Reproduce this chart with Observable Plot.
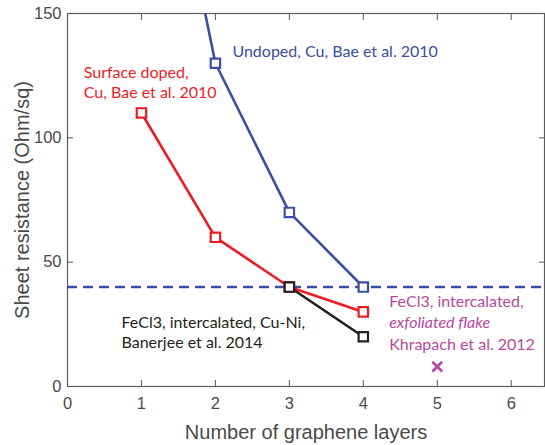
<!DOCTYPE html>
<html>
<head>
<meta charset="utf-8">
<script src="https://cdn.jsdelivr.net/npm/d3@7"></script>
<script src="https://cdn.jsdelivr.net/npm/@observablehq/plot@0.6"></script>
<style>
  html, body { margin: 0; padding: 0; background: #fff; }
  #chart svg { display: block; }
</style>
</head>
<body>
<div id="chart"></div>
<script>
// ---- data ----
const layers = [1, 2, 3, 4];
const undopedCu = [275, 130, 70, 40];
const surfaceDopedCu = [110, 60, 40, 30];
const fecl3Layers = [3, 4];
const fecl3CuNi = [40, 20];
const flakeLayers = [5];
const flakeResistance = [8];
const targetResistance = [40];
const xTicks = [0, 1, 2, 3, 4, 5, 6];
const yTicks = [0, 50, 100, 150];

const labelUndoped = "Undoped, Cu, Bae et al. 2010";
const labelSurface = ["Surface doped,", "Cu, Bae et al. 2010"];
const labelCuNi = ["FeCl3, intercalated, Cu-Ni,", "Banerjee et al. 2014"];
const labelFlake = ["FeCl3, intercalated,", "exfoliated flake", "Khrapach et al. 2012"];

const blue = "#3a4fa3", red = "#ed1c24", magenta = "#b5499d", black = "#231f20";
const annFont = "Lato";
const annSize = 16;

const undoped = layers.map((x, i) => ({x, y: undopedCu[i]}));
const surface = layers.map((x, i) => ({x, y: surfaceDopedCu[i]}));
const cuni = fecl3Layers.map((x, i) => ({x, y: fecl3CuNi[i]}));
const flake = flakeLayers.map((x, i) => ({x, y: flakeResistance[i]}));

function seriesMarks(data, color) {
  return [
    Plot.line(data, {x: "x", y: "y", stroke: color, strokeWidth: 2.6, clip: "frame"}),
    Plot.dot(data, {x: "x", y: "y", symbol: "square", r: 5.3, stroke: color, strokeWidth: 2.2, fill: "white", clip: "frame"})
  ];
}

const ann = (lines, x, y, color, extra = {}) =>
  Plot.text([lines.join("\n")], {x: () => x, y: () => y, text: d => d, textAnchor: "start", fill: color,
    fontFamily: annFont, fontSize: annSize, lineHeight: 1.25, ...extra});

const chart = Plot.plot({
  width: 545,
  height: 445,
  marginLeft: 67,
  marginRight: 1,
  marginTop: 13,
  marginBottom: 59,
  style: {fontFamily: "'Liberation Sans', Arial, sans-serif", fontSize: "16.5px", color: "#4a4a4a", background: "white"},
  x: {domain: [0, 6.45]},
  y: {domain: [0, 150]},
  marks: [
    Plot.frame({stroke: "#5a5a5a", strokeWidth: 1.2}),
    Plot.axisX(xTicks, {anchor: "bottom", tickSize: 0, tickPadding: 11, label: null, fill: "#4a4a4a"}),
    Plot.axisX(xTicks, {anchor: "bottom", tickSize: -6, text: null, label: null, stroke: "#5a5a5a"}),
    Plot.axisX(xTicks, {anchor: "top", tickSize: -6, text: null, label: null, stroke: "#5a5a5a"}),
    Plot.axisY(yTicks, {anchor: "left", tickSize: 0, tickPadding: 6, label: null, fill: "#4a4a4a"}),
    Plot.axisY(yTicks, {anchor: "left", tickSize: -6, text: null, label: null, stroke: "#5a5a5a"}),
    Plot.axisY(yTicks, {anchor: "right", tickSize: -6, text: null, label: null, stroke: "#5a5a5a"}),
    Plot.ruleY(targetResistance, {stroke: blue, strokeWidth: 2.6, strokeDasharray: "10,6"}),
    ...seriesMarks(surface, red),
    ...seriesMarks(undoped, blue),
    ...seriesMarks(cuni, black),
    Plot.dot(flake, {x: "x", y: "y", symbol: "times", r: 4.5, stroke: magenta, strokeWidth: 2.6}),
    Plot.text([labelUndoped], {x: () => 2.23, y: () => 134.7, text: d => d, textAnchor: "start", fill: blue, fontFamily: annFont, fontSize: annSize}),
    ann(labelSurface, 0.22, 122.6, red),
    ann(labelCuNi, 0.73, 22.0, black),
    Plot.text([labelFlake[0]], {x: () => 4.35, y: () => 34.1, text: d => d, textAnchor: "start", fill: magenta, fontFamily: annFont, fontSize: annSize}),
    Plot.text([labelFlake[1]], {x: () => 4.35, y: () => 25.4, text: d => d, textAnchor: "start", fill: magenta, fontFamily: annFont, fontSize: annSize, fontStyle: "italic"}),
    Plot.text([labelFlake[2]], {x: () => 4.35, y: () => 16.7, text: d => d, textAnchor: "start", fill: magenta, fontFamily: annFont, fontSize: annSize}),
    Plot.text(["Number of graphene layers"], {x: () => 3.225, y: () => 0, text: d => d, dy: 46, fill: "#4a4a4a", fontSize: 20}),
    Plot.text(["Sheet resistance (Ohm/sq)"], {x: () => 0, y: () => 75, text: d => d, rotate: -90, textAnchor: "middle", dx: -45, fill: "#4a4a4a", fontSize: 20})
  ]
});
document.getElementById("chart").append(chart);
</script>
</body>
</html>
